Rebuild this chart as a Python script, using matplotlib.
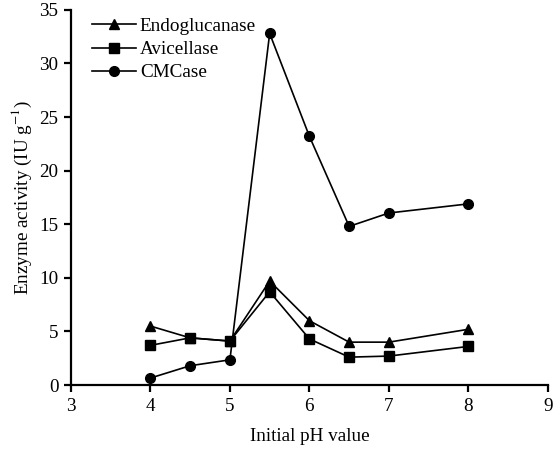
import matplotlib.pyplot as plt

plt.rcParams['font.family'] = ['Liberation Serif', 'DejaVu Serif']
plt.rcParams['mathtext.fontset'] = 'stix'

# Initial pH values
ph = [4, 4.5, 5, 5.5, 6, 6.5, 7, 8]

# Enzyme activities (IU/g)
endoglucanase = [5.5, 4.4, 4.1, 9.7, 6.0, 4.0, 4.0, 5.2]
avicellase = [3.7, 4.4, 4.1, 8.7, 4.3, 2.6, 2.7, 3.6]
cmcase = [0.65, 1.8, 2.35, 32.8, 23.2, 14.8, 16.05, 16.9]

fig = plt.figure(figsize=(5.54, 4.49), dpi=100)
ax = fig.add_axes([0.128, 0.1425, 0.861, 0.8355])

ax.plot(ph, endoglucanase, 'k-^', ms=7.5, lw=1.2, label='Endoglucanase')
ax.plot(ph, avicellase, 'k-s', ms=7, lw=1.2, label='Avicellase')
ax.plot(ph, cmcase, 'k-o', ms=7, lw=1.2, label='CMCase')

ax.set_xlim(3, 9)
ax.set_ylim(0, 35)
ax.set_xticks(range(3, 10))
ax.set_yticks(range(0, 36, 5))

ax.spines['top'].set_visible(False)
ax.spines['right'].set_visible(False)
ax.spines['left'].set_linewidth(1.6)
ax.spines['bottom'].set_linewidth(1.6)
ax.tick_params(width=1.6, length=5, labelsize=13.8, pad=4)

ax.set_xlabel('Initial pH value', fontsize=13.8, labelpad=10)
ax.set_ylabel('Enzyme activity (IU g$^{-1}$)', fontsize=13.8, labelpad=4)

ax.legend(loc='upper left', bbox_to_anchor=(0.02, 1.01), frameon=False,
          fontsize=13.8, handlelength=2.3, handletextpad=0.2,
          labelspacing=0.3, borderaxespad=0.2)

fig.savefig('out.png', dpi=100)
